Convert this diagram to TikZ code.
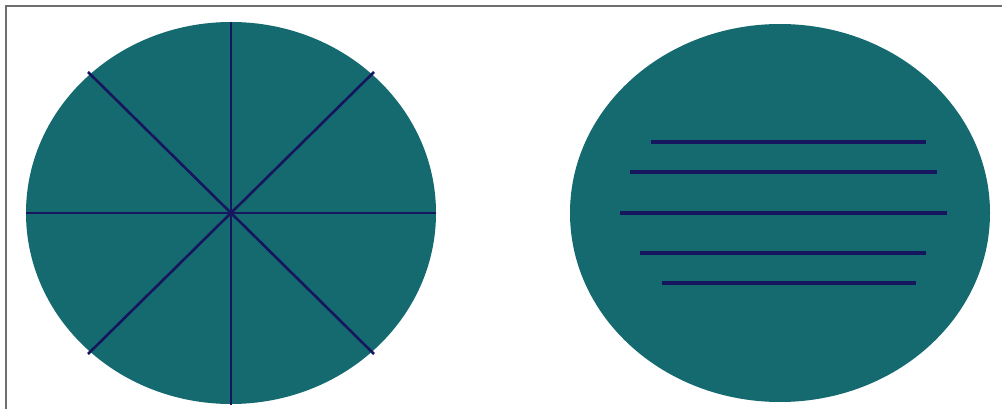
\documentclass[tikz,border=0pt]{standalone}
\begin{document}
\begin{tikzpicture}[x=1pt,y=-1pt,
  disc/.style={fill={rgb,255:red,20;green,106;blue,110}, draw=none},
  spoke/.style={draw={rgb,255:red,22;green,22;blue,95}, line width=2.6pt},
  bar/.style={draw={rgb,255:red,22;green,22;blue,95}, line width=3.2pt},
  frame/.style={draw={rgb,255:red,110;green,110;blue,110}, line width=1.2pt}]
\useasboundingbox (0,0) rectangle (1002,409);
\fill[white] (0,0) rectangle (1002,409);
\coordinate (tl) at (6,6);
\coordinate (tr) at (1002,6);
\coordinate (bl) at (6,409);
\draw[frame] (bl) -- (tl) -- (tr);
% left disc
\path[disc] (231,213) ellipse [x radius=205, y radius=191];
\coordinate (n) at (231,22);
\coordinate (s) at (231,405);
\coordinate (w) at (26,213);
\coordinate (e) at (436,213);
\coordinate (nw) at (88,72);
\coordinate (ne) at (374,72);
\coordinate (sw) at (88,354);
\coordinate (se) at (374,354);
\draw[spoke] (n) -- (s);
\draw[spoke] (w) -- (e);
\draw[spoke] (nw) -- (se);
\draw[spoke] (ne) -- (sw);
% right disc
\path[disc] (780,213) ellipse [x radius=210, y radius=189];
\coordinate (a1) at (651,142); \coordinate (b1) at (926,142);
\coordinate (a2) at (630,172); \coordinate (b2) at (937,172);
\coordinate (a3) at (620,213); \coordinate (b3) at (947,213);
\coordinate (a4) at (640,253); \coordinate (b4) at (926,253);
\coordinate (a5) at (662,283); \coordinate (b5) at (916,283);
\draw[bar] (a1) -- (b1);
\draw[bar] (a2) -- (b2);
\draw[bar] (a3) -- (b3);
\draw[bar] (a4) -- (b4);
\draw[bar] (a5) -- (b5);
\end{tikzpicture}
\end{document}
